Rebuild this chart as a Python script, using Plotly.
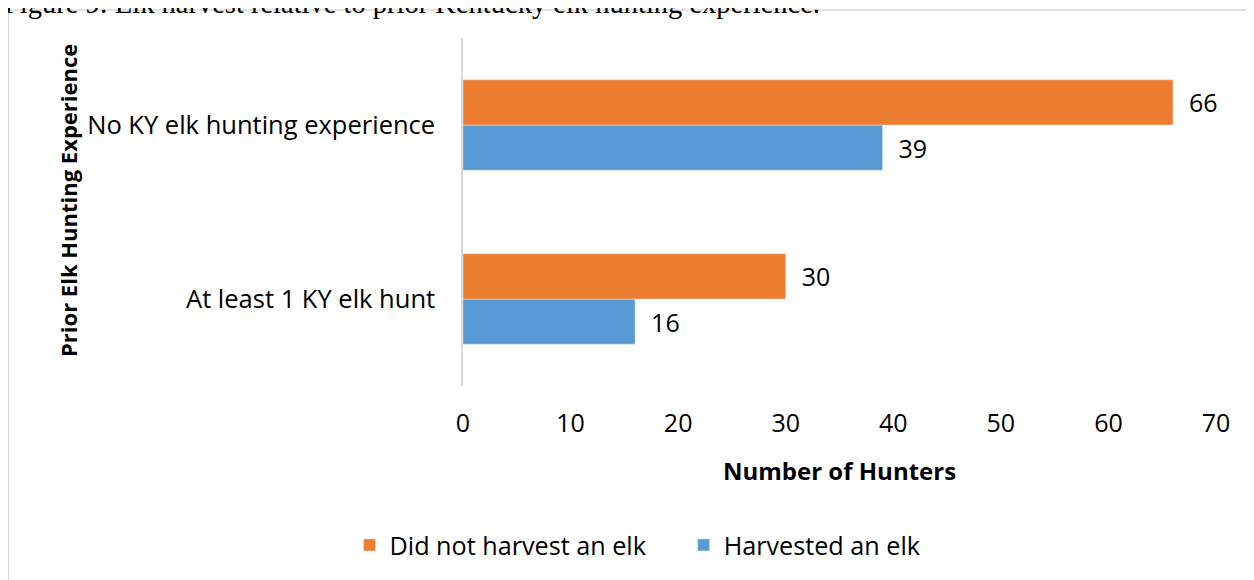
import plotly.graph_objects as go

categories = ["At least 1 KY elk hunt", "No KY elk hunting experience"]
harvested = [16, 39]
not_harvested = [30, 66]
x_ticks = [0, 10, 20, 30, 40, 50, 60, 70]

# the page body adds an 8px margin, so the figure is 8px smaller than the window
W, H = 1246, 572
ml, mr, mt, mb = 455, 38, 30, 194
pw, ph = W - ml - mr, H - mt - mb


def px_x(p):
    return (p - ml) / pw


def px_y(p):
    return (H - mb - p) / ph


font = "Open Sans, Liberation Sans, sans-serif"
gap = "\u00a0\u00a0"

fig = go.Figure()
fig.add_trace(go.Bar(
    y=categories, x=harvested, name="Harvested an elk", orientation="h",
    marker_color="#5b9bd5", text=[gap + str(v) for v in harvested], textposition="outside",
    textfont=dict(size=25, color="#000000"), cliponaxis=False,
))
fig.add_trace(go.Bar(
    y=categories, x=not_harvested, name="Did not harvest an elk" + "\u00a0" * 5, orientation="h",
    marker_color="#ed7d31", text=[gap + str(v) for v in not_harvested], textposition="outside",
    textfont=dict(size=25, color="#000000"), cliponaxis=False,
))

fig.update_layout(
    width=W, height=H,
    margin=dict(l=ml, r=mr, t=mt, b=mb),
    paper_bgcolor="white", plot_bgcolor="white",
    barmode="group", bargap=0.48, bargroupgap=0,
    font=dict(family=font, size=22, color="#000000"),
    showlegend=True,
    legend=dict(orientation="h", traceorder="reversed", x=px_x(630), xanchor="center",
                y=px_y(537), yanchor="middle", font=dict(size=25.2), itemwidth=30),
    xaxis=dict(range=[0, 70], tickvals=x_ticks, showgrid=False, showline=False,
               zeroline=False, ticks="", tickfont=dict(size=25), ticklabelstandoff=20),
    yaxis=dict(showgrid=False, showline=True, linecolor="#d9d9d9", linewidth=1.5,
               ticks="", ticklabelstandoff=21, tickfont=dict(size=25.5)),
)

# axis titles
fig.add_annotation(text="<b>Number of Hunters</b>", xref="paper", yref="paper",
                   x=0.5, y=px_y(462), yanchor="middle", showarrow=False,
                   font=dict(size=24))
fig.add_annotation(text="<b>Prior Elk Hunting Experience</b>", xref="paper", yref="paper",
                   x=px_x(60), xanchor="center", y=px_y(193), yanchor="middle",
                   textangle=-90, showarrow=False, font=dict(size=22))

# outer chart border (only top and left visible in the crop)
fig.add_shape(type="rect", xref="paper", yref="paper",
              x0=px_x(0.5), x1=px_x(1300), y0=px_y(640), y1=px_y(2),
              line=dict(color="#d9d9d9", width=1.5), layer="below")

# cut-off figure caption at the very top
fig.add_annotation(text="Figure 9: Elk harvest relative to prior Kentucky elk hunting experience.",
                   xref="paper", yref="paper", x=px_x(-6), xanchor="left",
                   y=px_y(13), yanchor="bottom", showarrow=False,
                   font=dict(family="Liberation Serif, Times New Roman, serif", size=28.5,
                             color="#000000"))

fig.write_html("out.html")
